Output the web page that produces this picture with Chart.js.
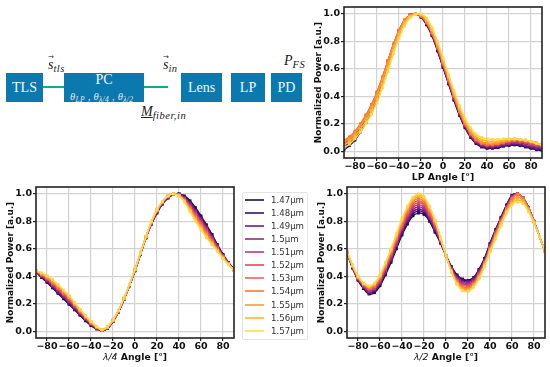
<!DOCTYPE html>
<html>
<head>
<meta charset="utf-8">
<script src="https://cdn.jsdelivr.net/npm/chart.js@4/dist/chart.umd.min.js"></script>
<style>
  html, body { margin: 0; padding: 0; background: #fff; width: 550px; height: 367px; overflow: hidden; }
  canvas { position: absolute; }
  .box { position: absolute; background: #0b78ae; color: #f4f8fb; font: 14px "Liberation Serif", serif; text-align: center; top: 73px; height: 29px; line-height: 29px; }
  .wire { position: absolute; background: #0fa98c; height: 2px; top: 86px; }
  .math { position: absolute; font: italic 14px "Liberation Serif", serif; color: #222; white-space: nowrap; line-height: 14px; }
  .math sub { font-size: 10.5px; vertical-align: -3px; line-height: 0; letter-spacing: .5px; }
  .vec { position: relative; }
  .vec::before { content: "\2192"; position: absolute; left: 0; top: -4px; font: 7px "DejaVu Sans", sans-serif; }
  .theta { position: absolute; left: 70px; top: 91px; font: italic 10.5px "Liberation Serif", serif; color: #dfeaf2; white-space: nowrap; letter-spacing: .3px; }
  .theta sub { font-size: 7.5px; vertical-align: -2px; line-height: 0; }
  .xlab { position: absolute; font: bold 9.3px "DejaVu Sans", sans-serif; color: #111; white-space: nowrap; text-align: center; }
  .xlab i { font-weight: normal; }
  #legend { position: absolute; left: 242px; top: 192px; width: 64px; height: 146px; border: 1px solid #e4e4e4; border-radius: 2px; font: 8.6px "DejaVu Sans", sans-serif; color: #333; }
  #legend div { position: absolute; left: 28px; white-space: nowrap; line-height: 10px; }
  #legend span { position: absolute; left: 2px; width: 19px; height: 2px; }
</style>
</head>
<body>
<div class="wire" style="left:43px;width:21px"></div>
<div class="wire" style="left:143px;width:25px"></div>
<div class="box" style="left:6px;width:37px">TLS</div>
<div class="box" style="left:64px;width:80px;line-height:13px">PC</div>
<div class="box" style="left:181px;width:41px">Lens</div>
<div class="box" style="left:231px;width:34px">LP</div>
<div class="box" style="left:271px;width:31px">PD</div>
<div class="theta">θ<sub>LP</sub> , θ<sub>λ/4</sub> , θ<sub>λ/2</sub></div>
<div class="math" style="left:48px;top:58px"><span class="vec">s</span><sub>tls</sub></div>
<div class="math" style="left:163px;top:58px"><span class="vec">s</span><sub>in</sub></div>
<div class="math" style="left:141px;top:105px"><u>M</u><sub>fiber,in</sub></div>
<div class="math" style="left:284px;top:54px">P<sub>FS</sub></div>

<canvas id="lpChart" style="left:313px;top:0"></canvas>
<canvas id="qwpChart" style="left:5px;top:180px"></canvas>
<canvas id="hwpChart" style="left:316px;top:180px"></canvas>
<div class="xlab" style="left:36px;width:198px;top:351px"><i>λ/4</i> Angle [°]</div>
<div class="xlab" style="left:347px;width:198px;top:351px"><i>λ/2</i> Angle [°]</div>
<div id="legend"></div>

<script>
const angles = [-90,-85,-80,-75,-70,-65,-60,-55,-50,-45,-40,-35,-30,-25,-20,-15,-10,-5,0,5,10,15,20,25,30,35,40,45,50,55,60,65,70,75,80,85,90];
const xTicks = [-80,-60,-40,-20,0,20,40,60,80];
const yTicks = [0,0.2,0.4,0.6,0.8,1];
const wavelengths = ['1.47µm','1.48µm','1.49µm','1.5µm','1.51µm','1.52µm','1.53µm','1.54µm','1.55µm','1.56µm','1.57µm'];
const colors = ['#1d0c45','#3b0f70','#6a1b86','#932a80','#b8377a','#db4a6a','#f1605d','#fb7a35','#fd9a2c','#fdb92e','#fcd94a'];

// LP sweep
const lp147 = [.01,.04,.08,.14,.21,.29,.38,.50,.63,.76,.87,.95,.99,1,.975,.92,.84,.73,.61,.49,.37,.26,.17,.10,.055,.03,.02,.02,.025,.035,.04,.045,.04,.03,.02,.01,.005];
const lp148 = [.02,.05,.09,.15,.22,.30,.39,.51,.64,.765,.87,.95,.99,1,.98,.925,.845,.735,.615,.495,.375,.265,.175,.105,.06,.035,.025,.025,.03,.04,.045,.05,.045,.035,.025,.015,.01];
const lp149 = [.035,.06,.10,.16,.23,.31,.40,.52,.645,.77,.875,.95,.99,1,.98,.93,.85,.74,.62,.50,.38,.27,.18,.11,.065,.04,.03,.03,.035,.045,.05,.055,.05,.04,.03,.02,.015];
const lp150 = [.045,.07,.115,.17,.24,.32,.41,.525,.65,.77,.875,.95,.99,1,.98,.93,.85,.745,.625,.505,.385,.275,.185,.115,.07,.045,.035,.035,.04,.05,.055,.06,.06,.05,.04,.03,.025];
const lp151 = [.055,.085,.125,.18,.25,.33,.42,.53,.655,.775,.875,.95,.99,1,.98,.935,.855,.75,.63,.51,.39,.28,.19,.12,.075,.05,.04,.04,.045,.055,.06,.07,.065,.06,.05,.04,.03];
const lp152 = [.065,.095,.135,.19,.255,.335,.425,.535,.66,.775,.88,.955,.99,1,.985,.935,.86,.755,.635,.515,.395,.285,.195,.125,.08,.055,.045,.045,.05,.06,.07,.075,.07,.065,.055,.045,.035];
const lp153 = [.075,.10,.14,.195,.26,.34,.43,.54,.66,.78,.88,.955,.99,1,.985,.94,.86,.76,.64,.52,.40,.29,.20,.13,.085,.06,.05,.05,.055,.065,.075,.08,.075,.07,.06,.05,.04];
const lp154 = [.08,.105,.145,.20,.265,.34,.43,.54,.66,.78,.88,.955,.99,1,.985,.94,.865,.76,.645,.525,.405,.29,.20,.13,.085,.06,.05,.05,.055,.065,.075,.08,.08,.075,.065,.055,.05];
const lp155 = [.07,.09,.13,.185,.245,.32,.41,.52,.64,.76,.865,.945,.985,1,.99,.95,.875,.775,.655,.535,.415,.305,.215,.145,.10,.07,.06,.06,.065,.075,.08,.085,.085,.08,.07,.06,.05];
const lp156 = [.045,.07,.11,.16,.22,.295,.38,.49,.61,.735,.845,.93,.98,1,.995,.96,.885,.785,.665,.545,.425,.315,.225,.155,.11,.085,.075,.07,.075,.08,.085,.09,.085,.08,.07,.06,.05];
const lp157 = [.025,.05,.09,.14,.20,.27,.35,.46,.58,.71,.82,.91,.97,.995,1,.97,.90,.80,.68,.56,.44,.33,.24,.17,.125,.10,.09,.085,.085,.09,.09,.09,.085,.08,.07,.055,.045];

// quarter wave plate sweep
const qwp147 = [.43,.39,.355,.315,.275,.235,.195,.155,.115,.075,.04,.015,.005,.02,.07,.14,.23,.33,.44,.56,.68,.78,.86,.925,.97,.995,1,.985,.95,.90,.84,.775,.705,.63,.56,.50,.45];
const qwp148 = [.43,.395,.36,.32,.28,.24,.20,.16,.12,.08,.045,.02,.005,.02,.07,.14,.23,.33,.44,.56,.68,.78,.865,.93,.97,.995,1,.98,.94,.89,.83,.765,.70,.625,.555,.50,.45];
const qwp149 = [.43,.40,.365,.325,.285,.25,.21,.165,.125,.085,.05,.02,.005,.02,.07,.14,.23,.33,.44,.56,.68,.785,.87,.93,.975,.995,1,.975,.935,.88,.82,.76,.69,.62,.55,.495,.45];
const qwp150 = [.435,.40,.37,.335,.295,.255,.215,.175,.13,.09,.05,.02,.005,.025,.075,.145,.235,.335,.445,.565,.685,.785,.87,.935,.975,1,.995,.97,.925,.87,.81,.75,.68,.615,.55,.495,.45];
const qwp151 = [.435,.405,.38,.34,.305,.265,.225,.18,.135,.095,.055,.025,.005,.025,.075,.145,.235,.335,.445,.565,.685,.79,.875,.935,.98,1,.995,.965,.915,.86,.80,.74,.675,.61,.545,.49,.45];
const qwp152 = [.435,.41,.38,.345,.31,.27,.23,.185,.14,.095,.055,.025,.01,.025,.075,.145,.235,.335,.445,.565,.685,.79,.875,.94,.98,1,.995,.96,.905,.85,.79,.73,.665,.605,.545,.49,.445];
const qwp153 = [.435,.41,.385,.35,.315,.275,.24,.19,.145,.10,.06,.03,.01,.025,.075,.145,.235,.335,.445,.565,.685,.79,.875,.94,.98,1,.99,.955,.90,.84,.78,.72,.66,.60,.54,.49,.445];
const qwp154 = [.44,.415,.39,.355,.32,.28,.245,.195,.15,.105,.06,.03,.01,.03,.08,.15,.24,.34,.45,.57,.69,.795,.88,.94,.985,1,.99,.95,.89,.83,.77,.71,.65,.595,.54,.49,.445];
const qwp155 = [.44,.42,.395,.365,.33,.29,.25,.20,.15,.105,.065,.03,.01,.03,.08,.15,.24,.34,.45,.57,.69,.795,.88,.945,.985,1,.99,.95,.885,.82,.76,.70,.645,.59,.535,.49,.445];
const qwp156 = [.44,.42,.40,.37,.335,.295,.255,.205,.155,.11,.07,.035,.01,.03,.08,.15,.24,.34,.45,.57,.69,.80,.885,.945,.985,1,.985,.945,.88,.81,.75,.69,.635,.585,.53,.485,.445];
const qwp157 = [.44,.425,.405,.375,.34,.30,.26,.21,.16,.115,.07,.035,.01,.03,.08,.15,.24,.34,.45,.57,.69,.80,.885,.945,.985,1,.985,.94,.87,.80,.74,.68,.63,.58,.53,.485,.445];

// half wave plate sweep
const hwp147 = [.57,.46,.37,.31,.27,.28,.33,.41,.50,.60,.70,.78,.84,.86,.85,.80,.72,.64,.55,.47,.41,.38,.37,.39,.45,.53,.64,.74,.83,.92,.99,1,.97,.90,.80,.69,.58];
const hwp148 = [.57,.46,.375,.315,.275,.29,.34,.42,.51,.61,.71,.79,.855,.875,.865,.81,.73,.645,.55,.465,.405,.375,.365,.385,.445,.525,.635,.735,.825,.915,.985,1,.97,.90,.80,.69,.58];
const hwp149 = [.57,.465,.38,.32,.28,.30,.35,.43,.52,.62,.725,.805,.87,.89,.875,.82,.74,.65,.55,.46,.395,.365,.36,.38,.44,.52,.63,.73,.82,.91,.985,1,.97,.90,.80,.69,.58];
const hwp150 = [.575,.47,.38,.325,.29,.305,.355,.44,.53,.635,.74,.82,.885,.905,.89,.83,.75,.655,.55,.455,.385,.355,.35,.37,.43,.51,.625,.725,.815,.905,.98,1,.97,.90,.80,.69,.58];
const hwp151 = [.575,.47,.385,.33,.295,.31,.365,.45,.545,.645,.75,.835,.90,.92,.905,.84,.76,.66,.55,.45,.38,.345,.34,.36,.42,.505,.615,.72,.81,.90,.975,1,.97,.90,.80,.69,.58];
const hwp152 = [.575,.47,.385,.335,.305,.32,.375,.46,.555,.66,.76,.85,.915,.935,.92,.85,.77,.665,.55,.445,.37,.335,.33,.355,.415,.50,.61,.71,.805,.895,.97,1,.97,.895,.80,.69,.58];
const hwp153 = [.575,.475,.39,.34,.31,.325,.385,.47,.565,.67,.775,.865,.93,.95,.93,.865,.78,.67,.55,.44,.365,.325,.32,.345,.41,.495,.605,.705,.80,.89,.965,1,.97,.895,.80,.69,.58];
const hwp154 = [.58,.475,.39,.345,.315,.335,.39,.48,.575,.68,.785,.875,.945,.965,.945,.88,.79,.675,.55,.44,.36,.32,.31,.34,.40,.49,.60,.70,.795,.885,.96,.995,.965,.89,.795,.69,.58];
const hwp155 = [.58,.48,.395,.345,.32,.34,.395,.485,.585,.69,.80,.89,.955,.98,.96,.89,.80,.675,.55,.435,.35,.31,.305,.335,.395,.485,.59,.69,.785,.875,.945,.975,.955,.885,.795,.69,.58];
const hwp156 = [.58,.48,.40,.35,.325,.345,.405,.495,.59,.70,.81,.90,.965,.99,.97,.90,.805,.68,.55,.43,.345,.30,.295,.325,.39,.475,.58,.68,.78,.87,.93,.955,.94,.875,.79,.69,.58];
const hwp157 = [.58,.48,.40,.35,.33,.35,.41,.50,.60,.71,.82,.91,.975,1,.98,.91,.81,.68,.55,.43,.34,.295,.29,.32,.38,.47,.575,.67,.77,.86,.92,.94,.93,.87,.79,.69,.58];

const lpSeries  = [lp147, lp148, lp149, lp150, lp151, lp152, lp153, lp154, lp155, lp156, lp157];
const qwpSeries = [qwp147, qwp148, qwp149, qwp150, qwp151, qwp152, qwp153, qwp154, qwp155, qwp156, qwp157];
const hwpSeries = [hwp147, hwp148, hwp149, hwp150, hwp151, hwp152, hwp153, hwp154, hwp155, hwp156, hwp157];

// the matplotlib style box round the plot area
const frame = {
  id: 'frame',
  afterDraw(chart) {
    const { ctx, chartArea: a } = chart;
    ctx.save();
    ctx.strokeStyle = '#222';
    ctx.lineWidth = 1.6;
    ctx.strokeRect(a.left, a.top, a.right - a.left, a.bottom - a.top);
    ctx.restore();
  }
};

function makeChart(id, series, xTitle) {
  const tickFont = { family: 'DejaVu Sans', size: 9.5, weight: 'bold' };
  const canvas = document.getElementById(id);
  canvas.width = 235;
  canvas.height = 187;
  canvas.style.width = '235px';
  canvas.style.height = '187px';

  return new Chart(canvas, {
    type: 'line',
    data: {
      labels: angles,
      datasets: series.map((values, i) => ({
        label: wavelengths[i],
        data: values.map((v, k) => ({ x: angles[k], y: v })),
        borderColor: colors[i],
        backgroundColor: colors[i],
        borderWidth: 1.4,
        pointStyle: 'rect',
        pointRadius: 2,
        pointBorderWidth: 0,
        tension: 0.35,
        order: series.length - i,  // long wavelengths go on top
      }))
    },
    options: {
      responsive: false,
      animation: false,
      layout: { padding: { top: 7, right: 6, left: 0, bottom: 0 } },
      plugins: { legend: { display: false }, tooltip: { enabled: false } },
      scales: {
        x: {
          type: 'linear', min: -90, max: 90,
          afterBuildTicks: s => { s.ticks = xTicks.map(v => ({ value: v })); },
          afterFit: s => { s.height = 29; },
          ticks: { color: '#111', font: tickFont, maxRotation: 0, autoSkip: false, padding: 0,
                   callback: v => String(v).replace('-', '\u2212') },
          grid: { color: '#d2d2d2', lineWidth: 1.2, tickLength: 3, tickColor: '#222' },
          border: { display: false },
          title: { display: !!xTitle, text: xTitle, color: '#111', padding: { top: 0, bottom: 4 },
                   font: { family: 'DejaVu Sans', size: 9.3, weight: 'bold' } },
        },
        y: {
          min: -0.05, max: 1.05,
          afterBuildTicks: s => { s.ticks = yTicks.map(v => ({ value: v })); },
          afterFit: s => { s.width = 31; },
          ticks: { color: '#111', font: tickFont, autoSkip: false, padding: 1,
                   callback: v => v.toFixed(1) },
          grid: { color: '#d2d2d2', lineWidth: 1.2, tickLength: 3, tickColor: '#222' },
          border: { display: false },
          title: { display: true, text: 'Normalized Power [a.u.]', color: '#111', padding: 0,
                   font: { family: 'DejaVu Sans', size: 8.9, weight: 'bold' } },
        }
      }
    },
    plugins: [frame]
  });
}

makeChart('lpChart', lpSeries, 'LP Angle [°]');
makeChart('qwpChart', qwpSeries, '');
makeChart('hwpChart', hwpSeries, '');

const legend = document.getElementById('legend');
legend.innerHTML = wavelengths.map((w, i) => {
  const y = 6 + i * 13.07;
  return `<span style="top:${y}px;background:${colors[i]};opacity:.8"></span><div style="top:${y - 4}px">${w}</div>`;
}).join('');
</script>
</body>
</html>
